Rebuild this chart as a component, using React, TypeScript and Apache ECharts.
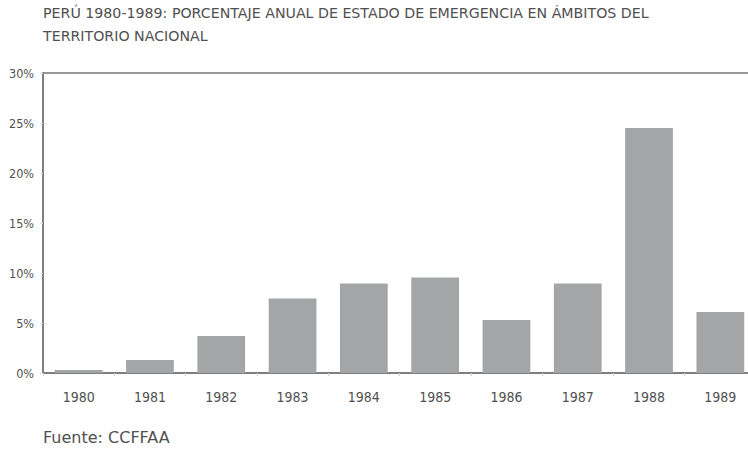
import React, { useEffect, useRef } from "react";
import * as echarts from "echarts";

const years = ["1980", "1981", "1982", "1983", "1984", "1985", "1986", "1987", "1988", "1989"];
const values = [0.3, 1.3, 3.7, 7.45, 8.95, 9.55, 5.3, 8.95, 24.5, 6.1];
const titleLines = [
  "PERÚ 1980-1989: PORCENTAJE ANUAL DE ESTADO DE EMERGENCIA EN ÁMBITOS DEL",
  "TERRITORIO NACIONAL",
];
const sourceText = "Fuente: CCFFAA";

export default function App() {
  const ref = useRef<HTMLDivElement>(null);
  useEffect(() => {
    if (!ref.current) return;
    const chart = echarts.init(ref.current, undefined, { renderer: "svg" });
    const titleFont = "DejaVu Sans";
    const axisFont = "DejaVu Sans Condensed";
    chart.setOption({
      animation: false,
      backgroundColor: "#ffffff",
      textStyle: { fontFamily: axisFont },
      graphic: [
        {
          type: "text",
          x: 43,
          y: 13,
          style: {
            text: titleLines[0],
            fontFamily: titleFont,
            fontSize: 14.2,
            fill: "#505050",
            verticalAlign: "middle",
          },
        },
        {
          type: "text",
          x: 43,
          y: 36,
          style: {
            text: titleLines[1],
            fontFamily: titleFont,
            fontSize: 14.2,
            fill: "#505050",
            verticalAlign: "middle",
          },
        },
        {
          type: "text",
          x: 43,
          y: 437,
          style: { text: sourceText, fontFamily: titleFont, fontSize: 16, fill: "#505050", verticalAlign: "middle" },
        },
      ],
      grid: {
        left: 43,
        top: 73,
        width: 713,
        height: 300,
        show: true,
        borderColor: "#777777",
        borderWidth: 1.5,
        containLabel: false,
      },
      xAxis: {
        type: "category",
        data: years,
        axisLine: { show: true, lineStyle: { color: "#777777", width: 1.5 } },
        axisTick: { show: true, length: 3, lineStyle: { color: "#cccccc" } },
        axisLabel: { color: "#505050", fontSize: 14, margin: 17, fontFamily: axisFont },
      },
      yAxis: {
        type: "value",
        min: 0,
        max: 30,
        interval: 5,
        axisLine: { show: true, lineStyle: { color: "#777777", width: 1.5 } },
        axisTick: { show: true, length: 3, lineStyle: { color: "#dddddd" } },
        splitLine: { show: false },
        axisLabel: { color: "#505050", fontSize: 12.5, margin: 9, formatter: "{value}%", fontFamily: axisFont },
      },
      series: [
        {
          type: "bar",
          data: values,
          barWidth: "67%",
          itemStyle: { color: "#a4a5a7" },
        },
      ],
    });
    return () => chart.dispose();
  }, []);
  return (
    <div style={{ width: 748, height: 449, position: "absolute", left: 0, top: 0, overflow: "hidden" }}>
      <div ref={ref} style={{ width: 768, height: 449 }} />
    </div>
  );
}
